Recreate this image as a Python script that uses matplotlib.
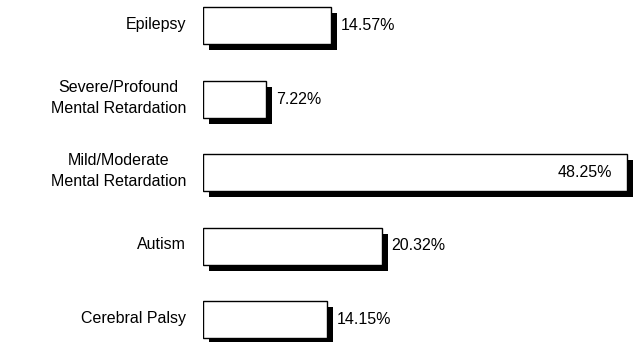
import matplotlib
matplotlib.use('Agg')
import matplotlib.pyplot as plt
import matplotlib.transforms as mtransforms

# ==> Data
categories = ['Epilepsy',
              'Severe/Profound\nMental Retardation',
              'Mild/Moderate\nMental Retardation',
              'Autism',
              'Cerebral Palsy']
values = [14.57, 7.22, 48.25, 20.32, 14.15]
value_labels = ['14.57%', '7.22%', '48.25%', '20.32%', '14.15%']

plt.rcParams['font.family'] = ['Liberation Sans', 'DejaVu Sans']

W, H, DPI = 634, 342, 100
fig = plt.figure(figsize=(W / DPI, H / DPI), dpi=DPI)

# axes starts where the bars start, runs to the right edge
x0 = 203
px_per_unit = 8.79
ax = fig.add_axes([x0 / W, 0, 1 - x0 / W, 1])
ax.set_xlim(0, (W - x0) / px_per_unit)
spacing = 73.5
first = 25.5
ax.set_ylim((H - first) / spacing, -first / spacing)
ax.axis('off')

pos = list(range(len(categories)))
bar_h = 37 / spacing

# ==> Shadow bars, offset down-right
shadow = ax.transData + mtransforms.ScaledTranslation(6 / DPI, -6 / DPI, fig.dpi_scale_trans)
ax.barh(pos, values, height=bar_h, left=0, color='black', transform=shadow, zorder=1)

# ==> Main bars
ax.barh(pos, values, height=bar_h, left=0, color='white', edgecolor='black',
        linewidth=1.0, zorder=2)

fs = 11.5
vmax = max(values)
for i, (v, lab) in enumerate(zip(values, value_labels)):
    if v == vmax:
        ax.annotate(lab, xy=(v, i), xytext=(-11, 0), textcoords='offset points',
                    ha='right', va='center', fontsize=fs, zorder=3)
    else:
        ax.annotate(lab, xy=(v, i), xytext=(7, 0), textcoords='offset points',
                    ha='left', va='center', fontsize=fs, zorder=3)

# ==> Category labels on the left
for i, cat in enumerate(categories):
    ax.annotate(cat, xy=(0, i), xytext=(-12, 1), textcoords='offset points',
                ha='right', va='center', multialignment='center',
                fontsize=fs, linespacing=1.5, annotation_clip=False)

fig.savefig('out.png', dpi=DPI)
